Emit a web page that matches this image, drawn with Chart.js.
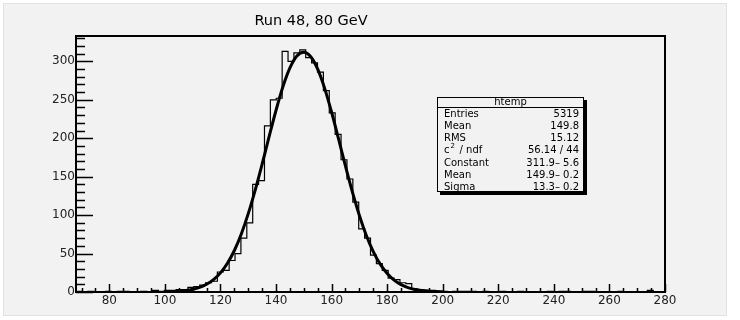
<!DOCTYPE html>
<html>
<head>
<meta charset="utf-8">
<script src="https://cdn.jsdelivr.net/npm/chart.js@4.4.1/dist/chart.umd.min.js"></script>
<style>
  html, body { margin: 0; padding: 0; background: #ffffff; }
  #wrap { width: 740px; height: 320px; position: relative; }
</style>
</head>
<body>
<div id="wrap"><canvas id="c" width="740" height="320"></canvas></div>
<script>
// ---------------- data ----------------
const chartTitle = 'Run 48, 80 GeV';
const histMin = 68;
const histMax = 280;
const binCount = 100;
const counts = [
  1, 0, 1, 0, 0, 1, 0, 1, 1, 0,
  0, 1, 0, 2, 1, 2, 2, 3, 3, 6,
  7, 9, 12, 14, 26, 28, 41, 50, 70, 90,
  140, 145, 216, 250, 252, 313, 300, 311, 315, 305,
  298, 286, 262, 233, 205, 172, 147, 117, 82, 70,
  48, 37, 28, 18, 16, 12, 11, 4, 3, 2,
  2, 1, 1, 0, 1, 1, 1, 1, 0, 1,
  0, 0, 1, 0, 0, 1, 0, 0, 0, 0,
  1, 0, 1, 1, 0, 0, 1, 1, 0, 0,
  0, 0, 1, 0, 0, 0, 0, 2, 0, 0
];
// fitted curve
const fitX = [100, 102.5, 105, 107.5, 110, 112.5, 115, 117.5, 120, 122.5, 125, 127.5, 130, 132.5, 135, 137.5, 140, 142.5, 145, 147.5, 150,
              152.5, 155, 157.5, 160, 162.5, 165, 167.5, 170, 172.5, 175, 177.5, 180, 182.5, 185, 187.5, 190, 192.5, 195, 197.5, 200];
const fitY = [0.3, 0.5, 1.0, 1.9, 3.5, 6.0, 10.0, 16.1, 24.9, 37.4, 54.0, 75.5, 101.9, 132.6, 166.5, 202.0, 236.4, 267.2, 291.4, 306.9, 311.9,
              306.0, 289.8, 264.9, 233.8, 199.1, 163.7, 129.9, 99.6, 73.6, 52.6, 36.2, 24.1, 15.5, 9.6, 5.7, 3.3, 1.9, 1.0, 0.5, 0.3];
const xTicks = [80, 100, 120, 140, 160, 180, 200, 220, 240, 260, 280];
const yTicks = [0, 50, 100, 150, 200, 250, 300];
const yMax = 333;
const statsTitle = 'htemp';
const statsLabels = ['Entries', 'Mean', 'RMS', 'c', 'Constant', 'Mean', 'Sigma'];
const statsValues = ['5319', '149.8', '15.12', '56.14 / 44', '311.9\u2013 5.6', '149.9\u2013 0.2', '13.3\u2013 0.2'];

// ---------------- build ----------------
const binWidth = (histMax - histMin) / binCount;
const histPoints = counts.map((v, k) => ({ x: histMin + k * binWidth, y: v }));
histPoints.push({ x: histMax, y: counts[counts.length - 1] });
const fitPoints = fitX.map((x, i) => ({ x: x, y: fitY[i] }));

const FONT = '"DejaVu Sans", sans-serif';

const rootStyle = {
  id: 'rootStyle',
  beforeDraw(chart) {
    const ctx = chart.ctx;
    ctx.save();
    ctx.fillStyle = '#ffffff';
    ctx.fillRect(0, 0, chart.width, chart.height);
    ctx.fillStyle = '#f2f2f2';
    ctx.fillRect(3, 3, 724, 313);
    ctx.strokeStyle = '#e2e2e2';
    ctx.lineWidth = 1;
    ctx.strokeRect(3.5, 3.5, 723, 312);
    ctx.restore();
  },
  afterDatasetsDraw(chart) {
    const ctx = chart.ctx;
    const xs = chart.scales.x, ys = chart.scales.y;
    const a = chart.chartArea;
    ctx.save();
    // ticks (pointing inward)
    ctx.strokeStyle = '#000';
    ctx.lineWidth = 1.5;
    ctx.beginPath();
    for (let v = 0; v <= yMax; v += 10) {
      const py = Math.round(ys.getPixelForValue(v)) + 0.5;
      const len = yTicks.includes(v) ? 17 : 9;
      ctx.moveTo(a.left, py); ctx.lineTo(a.left + len, py);
    }
    for (let v = 70; v <= histMax; v += 5) {
      const px = Math.round(xs.getPixelForValue(v)) + 0.5;
      const len = xTicks.includes(v) ? 8 : 4;
      ctx.moveTo(px, a.bottom); ctx.lineTo(px, a.bottom - len);
    }
    ctx.stroke();
    // frame
    ctx.lineWidth = 2;
    ctx.strokeRect(a.left, a.top, a.right - a.left, a.bottom - a.top);
    // title
    ctx.fillStyle = '#000';
    ctx.font = '14.5px ' + FONT;
    ctx.textAlign = 'center';
    ctx.textBaseline = 'middle';
    ctx.fillText(chartTitle, 311, 21);
    // stats box
    const bx = 437, by = 97, bw = 147, bh = 95;
    ctx.fillStyle = '#000';
    ctx.fillRect(bx + 3, by + 3, bw, bh);
    ctx.fillStyle = '#f2f2f2';
    ctx.fillRect(bx, by, bw, bh);
    ctx.lineWidth = 1;
    ctx.strokeStyle = '#000';
    ctx.strokeRect(bx + 0.5, by + 0.5, bw - 1, bh - 1);
    ctx.beginPath();
    ctx.moveTo(bx, by + 10.5); ctx.lineTo(bx + bw, by + 10.5);
    ctx.stroke();
    ctx.fillStyle = '#000';
    ctx.font = '10px ' + FONT;
    ctx.textAlign = 'center';
    ctx.fillText(statsTitle, bx + bw / 2, by + 5.5);
    for (let i = 0; i < statsLabels.length; i++) {
      const ty = 114 + i * 12.25;
      ctx.textAlign = 'left';
      ctx.font = '10px ' + FONT;
      ctx.fillText(statsLabels[i], 444, ty);
      if (statsLabels[i] === 'c') {
        const w = ctx.measureText('c').width;
        ctx.font = '7px ' + FONT;
        ctx.fillText('2', 444 + w + 1, ty - 5);
        ctx.font = '10px ' + FONT;
        ctx.fillText('/ ndf', 444 + w + 10, ty);
      }
      ctx.textAlign = 'right';
      ctx.fillText(statsValues[i], 579, ty);
    }
    ctx.restore();
  }
};

new Chart(document.getElementById('c'), {
  type: 'scatter',
  data: {
    datasets: [
      {
        label: 'htemp',
        data: histPoints,
        showLine: true,
        stepped: true,
        borderColor: '#000',
        borderWidth: 1.2,
        pointRadius: 0,
        fill: false
      },
      {
        label: 'gaus fit',
        data: fitPoints,
        showLine: true,
        borderColor: '#000',
        borderWidth: 3,
        pointRadius: 0,
        cubicInterpolationMode: 'monotone',
        fill: false
      }
    ]
  },
  options: {
    responsive: false,
    animation: false,
    devicePixelRatio: 1,
    layout: { padding: { left: 0, right: 75, top: 36, bottom: 0 } },
    plugins: { legend: { display: false }, tooltip: { enabled: false }, title: { display: false } },
    scales: {
      x: {
        type: 'linear',
        min: histMin,
        max: histMax,
        afterBuildTicks: (s) => { s.ticks = xTicks.map(v => ({ value: v })); },
        afterFit: (s) => { s.height = 28; },
        grid: { display: false, drawTicks: false },
        border: { display: false },
        ticks: { color: '#222', font: { family: FONT, size: 12 }, padding: 2, maxRotation: 0, autoSkip: false }
      },
      y: {
        type: 'linear',
        min: 0,
        max: yMax,
        afterBuildTicks: (s) => { s.ticks = yTicks.map(v => ({ value: v })); },
        afterFit: (s) => { s.width = 76; },
        grid: { display: false, drawTicks: false },
        border: { display: false },
        ticks: { color: '#222', font: { family: FONT, size: 12 }, padding: 1 }
      }
    }
  },
  plugins: [rootStyle]
});
</script>
</body>
</html>
